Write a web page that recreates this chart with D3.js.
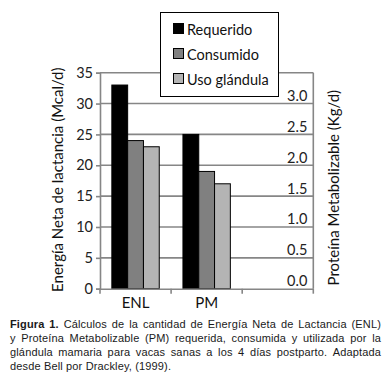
<!DOCTYPE html>
<html>
<head>
<meta charset="utf-8">
<script src="https://cdn.jsdelivr.net/npm/d3@7"></script>
<style>
  body { margin: 0; background: #fff; }
</style>
</head>
<body>
<div id="canvas"></div>
<script>
"use strict"

/* Data */
let categories = ["ENL", "PM", ""];
let seriesNames = ["Requerido", "Consumido", "Uso glándula"];
let enlValues = [33, 24, 23];      // Mcal/d, left axis
let pmValues = [2.5, 1.9, 1.7];    // Kg/d, right axis
let leftTicks = [0, 5, 10, 15, 20, 25, 30, 35];
let rightTicks = [0, 0.5, 1.0, 1.5, 2.0, 2.5, 3.0];
let captionLines = [
  " Cálculos de la cantidad de Energía Neta de Lactancia (ENL)",
  "y Proteína Metabolizable (PM) requerida, consumida y utilizada por la",
  "glándula mamaria para vacas sanas a los 4 días postparto. Adaptada",
  "desde Bell por Drackley, (1999)."
];

/* Drawing config */
let svgWidth = 391;
let svgHeight = 384;
let plotLeft = 100, plotRight = 313.3, plotTop = 72.7, plotBottom = 288.7;
let colors = ["#000000", "#808080", "#b4b4b4"];
let gridColor = "#868686";
let chartFont = "Lato, 'Open Sans', sans-serif";

let svg = d3.select("#canvas")
  .append("svg")
  .attr("width", svgWidth)
  .attr("height", svgHeight)
  .style("display", "block");

svg.append("rect")
  .attr("width", svgWidth)
  .attr("height", svgHeight)
  .attr("fill", "#fff");

/* Scales */
let xScale = d3.scaleBand()
  .domain(categories)
  .range([plotLeft, plotRight]);

let xInner = d3.scaleBand()
  .domain(seriesNames)
  .range([0, xScale.bandwidth()])
  .paddingInner(0)
  .paddingOuter(0.75);

let yLeft = d3.scaleLinear()
  .domain([0, 35])
  .range([plotBottom, plotTop]);

let yRight = d3.scaleLinear()
  .domain([0, 3.5])
  .range([plotBottom, plotTop]);

/* Gridlines */
svg.append("g")
  .selectAll("line")
  .data(leftTicks.slice(1))
  .enter()
  .append("line")
  .attr("x1", plotLeft)
  .attr("x2", plotRight)
  .attr("y1", d => yLeft(d))
  .attr("y2", d => yLeft(d))
  .attr("stroke", gridColor)
  .attr("stroke-width", 1.6);

/* Left axis */
let leftAxis = svg.append("g")
  .attr("transform", "translate(" + plotLeft + ",0)")
  .call(d3.axisLeft(yLeft).tickValues(leftTicks).tickSize(4).tickPadding(3));
leftAxis.select(".domain").attr("stroke", gridColor).attr("stroke-width", 1.6);
leftAxis.selectAll(".tick line").attr("stroke", gridColor).attr("stroke-width", 1.6);
leftAxis.selectAll("text")
  .style("font-family", chartFont)
  .style("font-size", "14.5px")
  .attr("fill", "#222");

/* Right axis line, labels sit above the gridlines inside the plot */
svg.append("line")
  .attr("x1", plotRight).attr("x2", plotRight)
  .attr("y1", plotTop).attr("y2", plotBottom)
  .attr("stroke", gridColor)
  .attr("stroke-width", 1.6);

svg.append("g")
  .selectAll("text")
  .data(rightTicks)
  .enter()
  .append("text")
  .attr("x", plotRight - 6)
  .attr("y", d => yRight(d) - 2.5)
  .attr("text-anchor", "end")
  .style("font-family", chartFont)
  .style("font-size", "14.5px")
  .attr("fill", "#222")
  .text(d => d.toFixed(1));

/* Bars */
let groups = [enlValues, pmValues];
let scales = [yLeft, yRight];
for (let g = 0; g < groups.length; g = g + 1) {
  svg.append("g")
    .selectAll("rect")
    .data(groups[g])
    .enter()
    .append("rect")
    .attr("x", (d, i) => xScale(categories[g]) + xInner(seriesNames[i]))
    .attr("y", d => scales[g](d))
    .attr("width", xInner.bandwidth())
    .attr("height", d => plotBottom - scales[g](d))
    .attr("fill", (d, i) => colors[i])
    .attr("stroke", "#000")
    .attr("stroke-width", 1);
}

/* Category axis */
let bottomAxis = svg.append("g")
  .attr("transform", "translate(0," + plotBottom + ")")
  .call(d3.axisBottom(xScale).tickSize(0).tickPadding(9));
bottomAxis.select(".domain").attr("stroke", gridColor).attr("stroke-width", 1.6);
bottomAxis.selectAll("text")
  .style("font-family", chartFont)
  .style("font-size", "15px")
  .attr("fill", "#111");

// tick marks between categories
let edges = categories.map(c => xScale(c)).concat([plotRight]);
svg.append("g")
  .selectAll("line")
  .data(edges)
  .enter()
  .append("line")
  .attr("x1", d => d).attr("x2", d => d)
  .attr("y1", plotBottom).attr("y2", plotBottom + 5)
  .attr("stroke", gridColor)
  .attr("stroke-width", 1.6);

/* Axis titles */
svg.append("text")
  .attr("transform", "translate(57," + ((plotTop + plotBottom) / 2 - 1) + ") rotate(-90)")
  .attr("text-anchor", "middle")
  .attr("dominant-baseline", "central")
  .style("font-family", chartFont)
  .style("font-size", "15px")
  .attr("fill", "#111")
  .text("Energía Neta de lactancia (Mcal/d)");

svg.append("text")
  .attr("transform", "translate(333," + ((plotTop + plotBottom) / 2 + 7) + ") rotate(-90)")
  .attr("text-anchor", "middle")
  .attr("dominant-baseline", "central")
  .style("font-family", chartFont)
  .style("font-size", "15px")
  .attr("fill", "#111")
  .text("Proteína Metabolizable (Kg/d)");

/* Legend */
let legend = svg.append("g");
legend.append("rect")
  .attr("x", 160.5).attr("y", 12.5)
  .attr("width", 118).attr("height", 84)
  .attr("fill", "#fff")
  .attr("stroke", "#000")
  .attr("stroke-width", 1);

for (let i = 0; i < seriesNames.length; i = i + 1) {
  legend.append("rect")
    .attr("x", 173.5)
    .attr("y", 23.5 + i * 25)
    .attr("width", 10)
    .attr("height", 10)
    .attr("fill", colors[i])
    .attr("stroke", "#000")
    .attr("stroke-width", 1);

  legend.append("text")
    .attr("x", 187)
    .attr("y", 29 + i * 25)
    .attr("dominant-baseline", "central")
    .style("font-family", chartFont)
    .style("font-size", "14.5px")
    .attr("fill", "#111")
    .text(seriesNames[i]);
}

/* Caption, justified between x=10 and x=381 */
let capLeft = 10, capRight = 381, capTop = 327.5, capStep = 14.2;
let capFont = "'Liberation Sans', Arial, sans-serif";

for (let l = 0; l < captionLines.length; l = l + 1) {
  let words = captionLines[l].trim().split(" ");
  if (l === 0) words.unshift("Figura", "1.");
  let g = svg.append("g");
  let widths = [];
  words.forEach((w, i) => {
    let t = g.append("text")
      .attr("y", capTop + l * capStep)
      .style("font-family", capFont)
      .style("font-size", "11px")
      .style("letter-spacing", "0.15px")
      .style("font-weight", (l === 0 && i < 2) ? "bold" : "normal")
      .attr("fill", "#1a1a1a")
      .text(w);
    widths.push(t.node().getComputedTextLength());
  });
  let total = d3.sum(widths);
  let gap = (l === captionLines.length - 1)
    ? 3.2
    : (capRight - capLeft - total) / (words.length - 1);
  let x = capLeft;
  g.selectAll("text").each(function (d, i) {
    d3.select(this).attr("x", x);
    x = x + widths[i] + gap;
  });
}
</script>
</body>
</html>
